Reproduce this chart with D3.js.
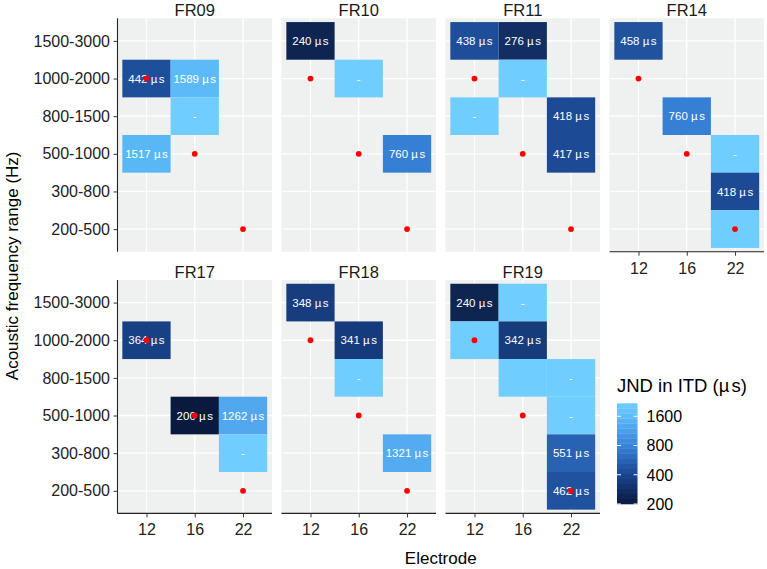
<!DOCTYPE html>
<html><head><meta charset="utf-8">
<script src="https://cdn.jsdelivr.net/npm/d3@7/dist/d3.min.js"></script>
<style>body{margin:0;background:#fff}svg{display:block}</style>
</head><body>
<script>
// ---- data ----
const electrodes = ["12", "16", "22"];
const freqRanges = ["1500-3000", "1000-2000", "800-1500", "500-1000", "300-800", "200-500"];
const panels = ["FR09", "FR10", "FR11", "FR14", "FR17", "FR18", "FR19"];
// tiles: [panel, electrode, frequency range, JND in µs (null = "-"), optional label override]
const tileFR09 = [["FR09","12","1000-2000",442],["FR09","16","1000-2000",1589],["FR09","16","800-1500",null],["FR09","12","500-1000",1517]];
const tileFR10 = [["FR10","12","1500-3000",240],["FR10","16","1000-2000",null],["FR10","22","500-1000",760]];
const tileFR11 = [["FR11","12","1500-3000",438],["FR11","16","1500-3000",276],["FR11","16","1000-2000",null],["FR11","12","800-1500",null],["FR11","22","800-1500",418],["FR11","22","500-1000",417]];
const tileFR14 = [["FR14","12","1500-3000",458],["FR14","16","800-1500",760],["FR14","22","500-1000",null],["FR14","22","300-800",418],["FR14","22","200-500",null]];
const tileFR17 = [["FR17","12","1000-2000",364],["FR17","16","500-1000",200],["FR17","22","500-1000",1262],["FR17","22","300-800",null]];
const tileFR18 = [["FR18","12","1500-3000",348],["FR18","16","1000-2000",341],["FR18","16","800-1500",null],["FR18","22","300-800",1321]];
const tileFR19 = [["FR19","12","1500-3000",240],["FR19","16","1500-3000",null],["FR19","12","1000-2000",null],["FR19","16","1000-2000",342],["FR19","16","800-1500",null,""],["FR19","22","800-1500",null],["FR19","22","500-1000",null],["FR19","22","300-800",551],["FR19","22","200-500",462]];
// red reference points (electrode, characteristic frequency range)
const refPoints = [["12","1000-2000"],["16","500-1000"],["22","200-500"]];
const legendTicks = [200, 400, 800, 1600];
const jndDomain = [200, 2175];

const tiles = [].concat(tileFR09, tileFR10, tileFR11, tileFR14, tileFR17, tileFR18, tileFR19);

// ---- layout ----
const W = 767, H = 569;
const font = "'Liberation Sans', Arial, Helvetica, sans-serif";
const panelW = 154.5, panelH = 233.4;
const colX = [117.5, 281.5, 445.5, 609.5];
const rowY = [18.3, 280];

const svg = d3.select("body").append("svg").attr("width", W).attr("height", H)
  .style("font-family", font);

const x = d3.scalePoint().domain(electrodes).range([0, panelW]).padding(0.6);
const y = d3.scalePoint().domain(freqRanges).range([0, panelH]).padding(0.6);
const bw = x.step(), bh = y.step();

const stopVals = [200, 400, 800, 1600, 2175];
const stopCols = ["#0a1a3e", "#1a4690", "#3784da", "#5dbbf8", "#70cdff"];
const color = d3.scaleLog().domain(stopVals).range(stopCols).interpolate(d3.interpolateLab).clamp(true);
const fillOf = v => color(v == null ? jndDomain[1] : v);

function usText(sel, num) {
  sel.text(null);
  sel.append("tspan").text(num + " µ");
  sel.append("tspan").attr("dx", 1.5).text("s");
}

panels.forEach((p, i) => {
  const r = Math.floor(i / 4), c = i % 4;
  const g = svg.append("g").attr("transform", `translate(${colX[c]},${rowY[r]})`);
  g.append("rect").attr("width", panelW).attr("height", panelH).attr("fill", "#eff0f0");
  g.selectAll(".gx").data(electrodes).join("line")
    .attr("x1", d => x(d)).attr("x2", d => x(d)).attr("y1", 0).attr("y2", panelH)
    .attr("stroke", "#fff").attr("stroke-width", 1.3);
  g.selectAll(".gy").data(freqRanges).join("line")
    .attr("y1", d => y(d)).attr("y2", d => y(d)).attr("x1", 0).attr("x2", panelW)
    .attr("stroke", "#fff").attr("stroke-width", 1.3);
  const pt = tiles.filter(t => t[0] === p);
  g.selectAll(".tile").data(pt).join("rect")
    .attr("x", d => x(d[1]) - bw / 2).attr("y", d => y(d[2]) - bh / 2)
    .attr("width", bw).attr("height", bh).attr("fill", d => fillOf(d[3]));
  g.selectAll(".lab").data(pt).join("text")
    .attr("x", d => x(d[1])).attr("y", d => y(d[2]))
    .attr("dy", "0.36em").attr("text-anchor", "middle")
    .attr("fill", "#fff").attr("font-size", 11.5)
    .each(function(d) {
      const s = d3.select(this);
      if (d.length > 4) s.text(d[4]);
      else if (d[3] == null) s.text("-");
      else usText(s, d[3]);
    });
  g.selectAll(".pt").data(refPoints).join("circle")
    .attr("cx", d => x(d[0])).attr("cy", d => y(d[1])).attr("r", 2.9).attr("fill", "#f00");
  g.append("text").attr("x", panelW / 2).attr("y", -2.5).attr("text-anchor", "middle")
    .attr("font-size", 16.5).attr("fill", "#1a1a1a").text(p);
  if (c === 0) {
    const ax = g.append("g").call(d3.axisLeft(y).tickSize(4).tickPadding(3.5));
    ax.select(".domain").attr("stroke", "#222").attr("stroke-width", 1.1).attr("d", `M0,0V${panelH}`);
    ax.selectAll(".tick line").attr("stroke", "#333");
    ax.selectAll("text").attr("font-size", 16).attr("fill", "#222").style("font-family", font);
  }
  if (r === 1 || i === 3) {
    const ax = g.append("g").attr("transform", `translate(0,${panelH})`)
      .call(d3.axisBottom(x).tickSize(4).tickPadding(6.5));
    ax.select(".domain").attr("stroke", "#222").attr("stroke-width", 1.1).attr("d", `M0,0H${panelW}`);
    ax.selectAll(".tick line").attr("stroke", "#333");
    ax.selectAll("text").attr("font-size", 16).attr("fill", "#222").style("font-family", font);
  }
});

svg.append("text").attr("x", (colX[0] + colX[3] + panelW) / 2).attr("y", 564)
  .attr("text-anchor", "middle").attr("font-size", 17).attr("fill", "#000").text("Electrode");
svg.append("text").attr("transform", `translate(18,${(rowY[0] + rowY[1] + panelH) / 2}) rotate(-90)`)
  .attr("text-anchor", "middle").attr("font-size", 17).attr("fill", "#000").text("Acoustic frequency range (Hz)");

// legend
const lg = svg.append("g");
const barX = 617, barTop = 403.3, barBot = 504, barW = 20.5;
const ly = d3.scaleLog().domain(jndDomain).range([barBot, barTop]);
const lt = lg.append("text").attr("x", barX).attr("y", 391.5).attr("font-size", 18.5).attr("fill", "#000");
lt.append("tspan").text("JND in ITD (µ");
lt.append("tspan").attr("dx", 2).text("s)");
const nbin = 20;
const binVals = d3.range(nbin).map(k => Math.exp(Math.log(jndDomain[0]) + (k + 0.5) / nbin * (Math.log(jndDomain[1]) - Math.log(jndDomain[0]))));
const binH = (barBot - barTop) / nbin;
lg.selectAll(".bin").data(binVals).join("rect")
  .attr("x", barX).attr("width", barW)
  .attr("y", d => ly(d) - binH / 2).attr("height", binH + 0.3)
  .attr("fill", d => color(d));
legendTicks.forEach(v => {
  lg.append("line").attr("x1", barX).attr("x2", barX + 4).attr("y1", ly(v)).attr("y2", ly(v)).attr("stroke", "#fff").attr("stroke-width", 1);
  lg.append("line").attr("x1", barX + barW - 4).attr("x2", barX + barW).attr("y1", ly(v)).attr("y2", ly(v)).attr("stroke", "#fff").attr("stroke-width", 1);
  lg.append("text").attr("x", barX + barW + 9).attr("y", ly(v)).attr("dy", "0.36em")
    .attr("font-size", 16).attr("fill", "#000").text(v);
});
</script>
</body></html>
